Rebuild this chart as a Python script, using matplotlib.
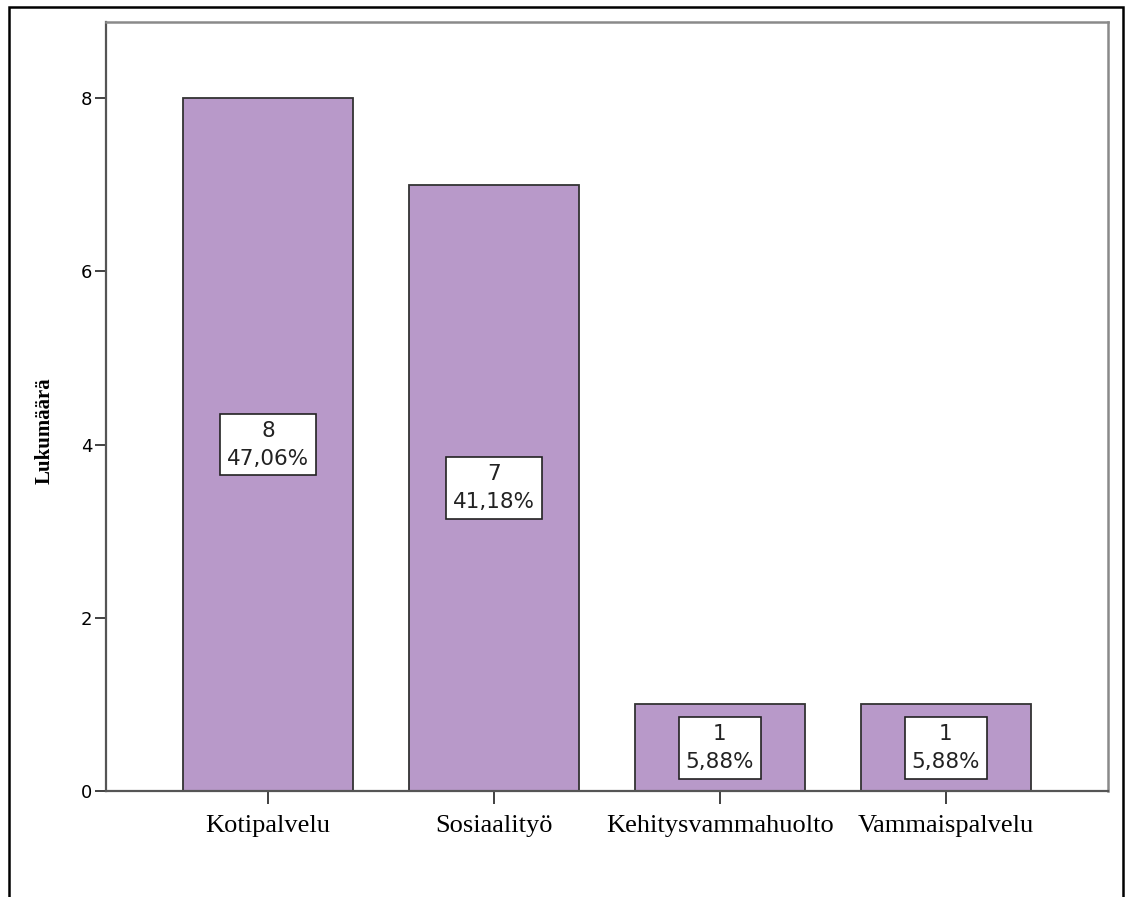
import matplotlib
matplotlib.use("Agg")
from matplotlib import pyplot as plt
from matplotlib.patches import Rectangle

categories = ["Kotipalvelu", "Sosiaalityö", "Kehitysvammahuolto", "Vammaispalvelu"]
counts = [8, 7, 1, 1]
percents = [47.06, 41.18, 5.88, 5.88]
yticks = [0, 2, 4, 6, 8]

W, H = 1126, 897
fig = plt.figure(figsize=(W / 100, H / 100), dpi=100)

# outer frame around the whole chart (open at the bottom)
fig.patches.append(Rectangle((9 / W, -0.05), (1123 - 9) / W, 1 - 7 / H + 0.05,
                             transform=fig.transFigure, fill=False,
                             edgecolor="black", linewidth=1.8, zorder=0))

ax = fig.add_axes([106 / W, 1 - 791 / H, (1108 - 106) / W, (791 - 22) / H])

x = list(range(len(categories)))
ax.bar(x, counts, width=0.75, color="#b899c9", edgecolor="#333333",
       linewidth=1.3, zorder=2)

for xi, c, p in zip(x, counts, percents):
    label = f"{c}\n{p:.2f}%".replace(".", ",")
    ax.text(xi, c / 2, label, ha="center", va="center", fontsize=15.5,
            family="DejaVu Sans", color="#222222", linespacing=1.5, zorder=3,
            bbox=dict(boxstyle="square,pad=0.32", facecolor="white",
                      edgecolor="#222222", linewidth=1.2))

ax.set_xlim(-0.717, 3.717)
ax.set_ylim(0, 8.88)
ax.set_xticks(x)
ax.set_xticklabels(categories, family="Liberation Serif", fontsize=19)
ax.set_yticks(yticks)
ax.set_yticklabels([str(t) for t in yticks], family="DejaVu Sans", fontsize=13)
ax.tick_params(axis="y", length=8, width=1.3, color="#333333", pad=2)
ax.tick_params(axis="x", length=9, width=1.3, color="#333333", pad=8)

for side in ["left", "bottom"]:
    ax.spines[side].set_color("#555555")
    ax.spines[side].set_linewidth(1.6)
for side in ["top", "right"]:
    ax.spines[side].set_color("#8a8a8a")
    ax.spines[side].set_linewidth(1.8)

fig.text(45 / W, 1 - 431 / H, "Lukumäärä", rotation=90, ha="center",
         va="center", family="Liberation Serif", fontweight="bold",
         fontsize=15)

plt.savefig("out.png", dpi=100)
